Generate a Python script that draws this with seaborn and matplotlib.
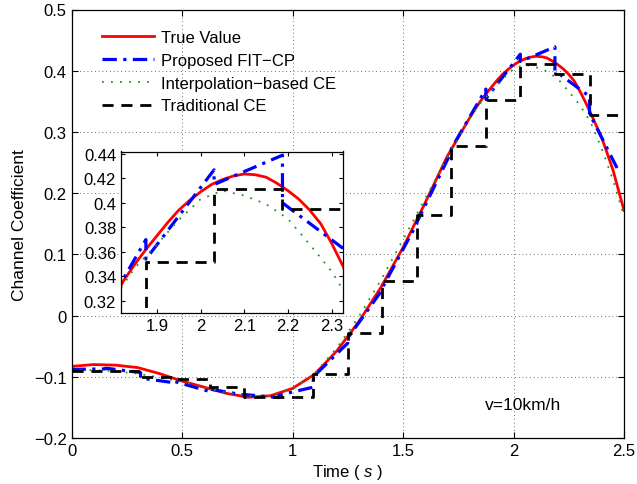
import numpy as np
import pandas as pd
import matplotlib as mpl
import matplotlib.pyplot as plt
import seaborn as sns

mpl.rcParams['font.family'] = ['Liberation Sans', 'DejaVu Sans']
mpl.rcParams['mathtext.fontset'] = 'custom'
mpl.rcParams['mathtext.it'] = 'Liberation Sans:italic'
mpl.rcParams['mathtext.rm'] = 'Liberation Sans'

# true channel coefficient
t_true = [0, 0.1, 0.2, 0.3, 0.4, 0.5, 0.6, 0.7, 0.8, 0.9, 1.0, 1.1, 1.2, 1.3, 1.4,
          1.5, 1.6, 1.7, 1.8, 1.825, 1.85, 1.875, 1.9, 1.925, 1.95, 1.975, 2.0,
          2.025, 2.05, 2.075, 2.1, 2.125, 2.15, 2.175, 2.2, 2.225, 2.25, 2.275,
          2.3, 2.325, 2.35, 2.4, 2.45, 2.5]
true_val = [-0.083, -0.080, -0.081, -0.085, -0.095, -0.107, -0.117, -0.127, -0.1335,
            -0.131, -0.119, -0.096, -0.058, -0.010, 0.046, 0.111, 0.184, 0.260,
            0.322, 0.337, 0.350, 0.362, 0.373, 0.384, 0.394, 0.402, 0.409, 0.415,
            0.419, 0.422, 0.4236, 0.423, 0.421, 0.416, 0.410, 0.403, 0.394, 0.383,
            0.367, 0.349, 0.330, 0.290, 0.238, 0.172]

# interpolation-based CE
t_interp = [0, 0.1, 0.2, 0.3, 0.4, 0.5, 0.6, 0.7, 0.8, 0.9, 1.0, 1.1, 1.2, 1.3, 1.4,
            1.5, 1.6, 1.7, 1.8, 1.85, 1.9, 1.95, 2.0, 2.05, 2.1, 2.15, 2.2, 2.25,
            2.3, 2.35, 2.4, 2.45, 2.5]
interp_val = [-0.090, -0.089, -0.091, -0.095, -0.101, -0.108, -0.117, -0.126, -0.131,
              -0.131, -0.120, -0.095, -0.053, -0.002, 0.058, 0.124, 0.191, 0.258,
              0.321, 0.347, 0.366, 0.386, 0.403, 0.410, 0.406, 0.399, 0.387, 0.366,
              0.344, 0.315, 0.272, 0.222, 0.162]

# pilot block boundaries
edges = [0, 0.156, 0.3125, 0.469, 0.625, 0.781, 0.9375, 1.094, 1.25, 1.406,
         1.5625, 1.719, 1.875, 2.031, 2.1875, 2.344, 2.5]

# traditional CE (held per block)
trad_val = [-0.090, -0.090, -0.101, -0.104, -0.117, -0.133, -0.133, -0.0955,
            -0.029, 0.056, 0.164, 0.277, 0.352, 0.411, 0.395, 0.327]

# proposed FIT-CP (start / end of each block)
fit_start = [-0.088, -0.086, -0.102, -0.108, -0.120, -0.129, -0.130, -0.100,
             -0.037, 0.045, 0.152, 0.273, 0.354, 0.415, 0.400, 0.330]
fit_end = [-0.087, -0.093, -0.110, -0.124, -0.130, -0.134, -0.117, -0.045,
           0.042, 0.150, 0.268, 0.370, 0.427, 0.439, 0.358, 0.240]
fit_last_t = 2.47

df_true = pd.DataFrame({'t': t_true, 'h': true_val})
df_interp = pd.DataFrame({'t': t_interp, 'h': interp_val})
df_trad = pd.DataFrame({'t': edges, 'h': trad_val + [trad_val[-1]]})
fit_t, fit_h = [], []
for i in range(len(fit_start)):
    t1 = edges[i + 1] if i < len(fit_start) - 1 else fit_last_t
    fit_t += [edges[i], t1]
    fit_h += [fit_start[i], fit_end[i]]
df_fit = pd.DataFrame({'t': fit_t, 'h': fit_h})

styles = [
    (df_true, 'True Value', dict(color='red', linewidth=2.0, linestyle='-')),
    (df_fit, 'Proposed FIT\u2212CP', dict(color='blue', linewidth=2.3, linestyle=(0, (4.5, 2, 1, 2)))),
    (df_interp, 'Interpolation\u2212based CE', dict(color=(0.1, 0.6, 0.1), linewidth=1.3, linestyle=(0, (1, 4)))),
    (df_trad, 'Traditional CE', dict(color='black', linewidth=2.0, linestyle=(0, (4, 2.8)), drawstyle='steps-post')),
]


def draw(ax, legend):
    for d, lab, kw in styles:
        sns.lineplot(data=d, x='t', y='h', ax=ax, estimator=None, sort=False,
                     errorbar=None, label=lab if legend else None, legend=False, **kw)


def fmt(v, pos):
    s = '%g' % v
    return s.replace('-', '\u2212')


fig = plt.figure(figsize=(6.37, 4.85), dpi=100)
ax = fig.add_axes([71.5 / 637, 46 / 485, 552.5 / 637, 428.5 / 485])
draw(ax, True)
ax.set_xlim(0, 2.5)
ax.set_ylim(-0.2, 0.5)
ax.set_xticks([0, 0.5, 1, 1.5, 2, 2.5])
ax.set_yticks([-0.2, -0.1, 0, 0.1, 0.2, 0.3, 0.4, 0.5])
ax.xaxis.set_major_formatter(mpl.ticker.FuncFormatter(fmt))
ax.yaxis.set_major_formatter(mpl.ticker.FuncFormatter(fmt))
ax.grid(True, color='0.25', linestyle=(0, (1, 3.5)), linewidth=0.6)
ax.tick_params(direction='in', top=True, right=True, length=4, labelsize=12)
ax.set_xlabel('Time ( $\\it{s}$ )', fontsize=12, labelpad=3)
ax.set_ylabel('Channel Coefficient', fontsize=12.5, labelpad=5)
ax.text(1.87, -0.145, 'v=10km/h', fontsize=12.5, va='center', ha='left')
for sp in ax.spines.values():
    sp.set_linewidth(0.9)
h, l = ax.get_legend_handles_labels()
ax.legend(h, l, loc='upper left', bbox_to_anchor=(0.043, 0.968), frameon=False,
          fontsize=12, handlelength=3.1, labelspacing=0.47, handletextpad=0.42,
          borderaxespad=0)

ins = fig.add_axes([121 / 637, 171 / 485, 222 / 637, 161.5 / 485])
ins.set_facecolor('white')
draw(ins, False)
ins.set_xlim(1.818, 2.326)
ins.set_ylim(0.31, 0.442)
ins.set_xticks([1.9, 2.0, 2.1, 2.2, 2.3])
ins.set_yticks([0.32, 0.34, 0.36, 0.38, 0.40, 0.42, 0.44])
ins.xaxis.set_major_formatter(mpl.ticker.FuncFormatter(fmt))
ins.yaxis.set_major_formatter(mpl.ticker.FuncFormatter(fmt))
ins.tick_params(direction='in', top=True, right=True, length=3, labelsize=12)
ins.set_xlabel('')
ins.set_ylabel('')
for sp in ins.spines.values():
    sp.set_linewidth(0.9)

fig.savefig('out.png', dpi=100)
